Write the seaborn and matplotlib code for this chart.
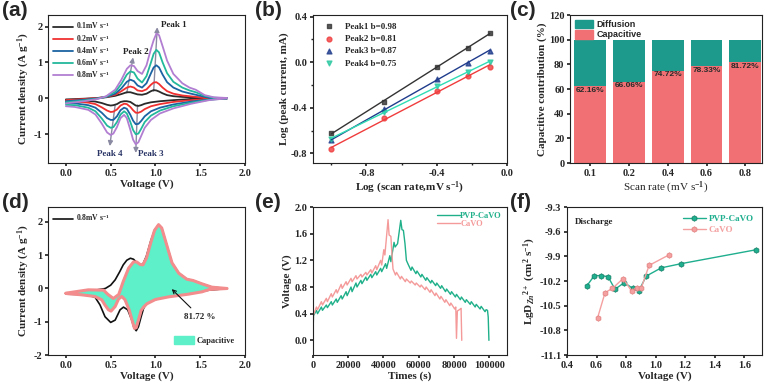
import numpy as np
import pandas as pd
import matplotlib
matplotlib.use("Agg")
import matplotlib.pyplot as plt
import seaborn as sns
from matplotlib.patches import Patch
from matplotlib.ticker import AutoMinorLocator

# ---------------- (a) CV curves at different scan rates ----------------
cv_rates = ["0.1", "0.2", "0.4", "0.6", "0.8"]
cv_colors = ["#2b2b2b", "#f03030", "#1c63a3", "#22b89c", "#b27ed2"]
cv_x_up = [0.0, 0.2, 0.35, 0.45, 0.55, 0.62, 0.68, 0.72, 0.76, 0.8, 0.85, 0.9, 0.95,
           0.98, 1.01, 1.04, 1.08, 1.13, 1.2, 1.3, 1.38, 1.45, 1.55, 1.65, 1.8]
cv_x_low = [1.8, 1.6, 1.4, 1.2, 1.05, 0.95, 0.88, 0.84, 0.81, 0.78, 0.75, 0.72, 0.68,
            0.65, 0.61, 0.57, 0.53, 0.5, 0.46, 0.4, 0.33, 0.25, 0.1, 0.0]
cv_up_01 = [-0.03, -0.01, 0.01, 0.03, 0.07, 0.12, 0.17, 0.17, 0.14, 0.11, 0.10, 0.13, 0.20,
            0.23, 0.22, 0.19, 0.14, 0.09, 0.06, 0.04, 0.03, 0.02, 0.01, 0.0, 0.0]
cv_up_02 = [-0.05, -0.02, 0.01, 0.04, 0.10, 0.20, 0.30, 0.33, 0.30, 0.22, 0.20, 0.25, 0.38,
            0.44, 0.45, 0.40, 0.30, 0.20, 0.13, 0.08, 0.06, 0.04, 0.02, 0.0, 0.0]
cv_up_04 = [-0.08, -0.04, 0.0, 0.04, 0.13, 0.28, 0.46, 0.52, 0.48, 0.36, 0.30, 0.42, 0.70,
            0.86, 0.92, 0.86, 0.66, 0.45, 0.30, 0.19, 0.14, 0.10, 0.04, 0.01, 0.0]
cv_up_06 = [-0.11, -0.06, -0.01, 0.05, 0.18, 0.40, 0.66, 0.75, 0.72, 0.55, 0.44, 0.62, 1.00,
            1.24, 1.35, 1.28, 1.00, 0.70, 0.46, 0.30, 0.22, 0.17, 0.07, 0.02, 0.0]
cv_up_08 = [-0.14, -0.08, -0.02, 0.06, 0.24, 0.52, 0.82, 0.92, 0.90, 0.76, 0.68, 0.92, 1.38,
            1.62, 1.80, 1.76, 1.45, 1.05, 0.68, 0.42, 0.30, 0.24, 0.09, 0.03, 0.01]
cv_low_01 = [0.0, -0.01, -0.02, -0.05, -0.08, -0.11, -0.15, -0.19, -0.21, -0.20, -0.15, -0.10,
             -0.08, -0.08, -0.10, -0.16, -0.19, -0.20, -0.18, -0.13, -0.09, -0.07, -0.05, -0.05]
cv_low_02 = [0.0, -0.02, -0.05, -0.10, -0.16, -0.22, -0.30, -0.37, -0.40, -0.40, -0.33, -0.24,
             -0.16, -0.15, -0.20, -0.31, -0.37, -0.38, -0.34, -0.25, -0.16, -0.12, -0.09, -0.09]
cv_low_04 = [0.0, -0.03, -0.09, -0.17, -0.26, -0.36, -0.50, -0.63, -0.71, -0.72, -0.62, -0.46,
             -0.29, -0.26, -0.33, -0.50, -0.60, -0.60, -0.55, -0.40, -0.26, -0.19, -0.14, -0.13]
cv_low_06 = [0.0, -0.04, -0.12, -0.22, -0.34, -0.48, -0.66, -0.85, -0.98, -1.0, -0.88, -0.66,
             -0.42, -0.36, -0.45, -0.66, -0.80, -0.82, -0.76, -0.56, -0.36, -0.26, -0.19, -0.18]
cv_low_08 = [0.0, -0.05, -0.15, -0.28, -0.42, -0.60, -0.82, -1.05, -1.22, -1.28, -1.15, -0.88,
             -0.55, -0.46, -0.55, -0.80, -0.98, -1.02, -0.95, -0.70, -0.45, -0.32, -0.24, -0.22]
cv_up = [cv_up_01, cv_up_02, cv_up_04, cv_up_06, cv_up_08]
cv_low = [cv_low_01, cv_low_02, cv_low_04, cv_low_06, cv_low_08]

# ---------------- (b) log(i) vs log(v) ----------------
log_rate = [-1.0, -0.699, -0.398, -0.222, -0.097]
peak1 = [-0.623, -0.345, -0.038, 0.129, 0.254]
peak2 = [-0.763, -0.491, -0.249, -0.120, -0.038]
peak3 = [-0.687, -0.412, -0.149, -0.003, 0.102]
peak4 = [-0.675, -0.433, -0.208, -0.082, 0.0]
peak_labels = ["Peak1 b=0.98", "Peak2 b=0.81", "Peak3 b=0.87", "Peak4 b=0.75"]

# ---------------- (c) capacitive contribution ----------------
scan_rates = ["0.1", "0.2", "0.4", "0.6", "0.8"]
capacitive = [62.16, 66.06, 74.72, 78.33, 81.72]
diffusion = [37.84, 33.94, 25.28, 21.67, 18.28]

# ---------------- (d) capacitive region at 0.8 mV/s ----------------
d_x_up = [0.0, 0.2, 0.35, 0.44, 0.5, 0.55, 0.6, 0.64, 0.68, 0.72, 0.755, 0.79, 0.83, 0.86,
          0.9, 0.95, 0.99, 1.035, 1.07, 1.13, 1.185, 1.26, 1.35, 1.42, 1.52, 1.63, 1.8]
d_y_up = [-0.15, -0.1, -0.04, 0.0, 0.1, 0.26, 0.5, 0.71, 0.85, 0.91, 0.88, 0.78, 0.71, 0.73,
          0.98, 1.45, 1.75, 1.92, 1.82, 1.27, 0.77, 0.46, 0.28, 0.24, 0.14, 0.04, 0.0]
d_x_low = [1.8, 1.6, 1.37, 1.11, 0.96, 0.9, 0.867, 0.84, 0.81, 0.785, 0.76, 0.736, 0.69,
           0.643, 0.605, 0.55, 0.5, 0.437, 0.38, 0.325, 0.213, 0.0]
d_y_low = [0.0, -0.05, -0.14, -0.26, -0.36, -0.45, -0.6, -0.85, -1.15, -1.27, -1.18, -0.95,
           -0.64, -0.56, -0.64, -0.95, -1.02, -0.85, -0.49, -0.26, -0.18, -0.17]
cap_x_up = [0.0, 0.25, 0.42, 0.47, 0.53, 0.59, 0.64, 0.7, 0.755, 0.79, 0.83, 0.86, 0.9, 0.95,
            0.99, 1.035, 1.07, 1.13, 1.185, 1.26, 1.35, 1.42, 1.52, 1.63, 1.8]
cap_y_up = [-0.14, -0.04, -0.05, -0.18, -0.30, -0.18, 0.21, 0.61, 0.80, 0.80, 0.72, 0.71, 0.92,
            1.40, 1.75, 1.92, 1.82, 1.27, 0.77, 0.46, 0.28, 0.24, 0.14, 0.04, 0.0]
cap_x_low = [1.8, 1.6, 1.52, 1.37, 1.15, 1.0, 0.904, 0.867, 0.84, 0.81, 0.785, 0.766, 0.744,
             0.706, 0.66, 0.624, 0.587, 0.55, 0.504, 0.475, 0.437, 0.4, 0.325, 0.175, 0.0]
cap_y_low = [0.0, -0.03, -0.1, -0.17, -0.25, -0.33, -0.46, -0.56, -0.66, -0.95, -1.18, -1.2,
             -1.0, -0.64, -0.34, -0.24, -0.32, -0.54, -0.68, -0.64, -0.5, -0.34, -0.24, -0.19, -0.15]

# ---------------- (e) GITT profiles (time in ks) ----------------
pvp_t = [0.0, 0.3, 2.0, 2.6, 4.8, 5.4, 7.6, 8.2, 10.4, 11.0, 13.2, 13.8, 16.0, 16.6, 18.8, 19.4,
         21.6, 22.2, 24.4, 25.0, 27.2, 27.8, 30.0, 30.6, 32.8, 33.4, 35.6, 36.2, 38.4, 39.0,
         41.2, 41.8, 43.6, 44.2, 46.0, 46.6, 48.0, 49.8, 50.5, 51.3, 52.2, 53.0, 54.0, 55.6,
         56.2, 58.4, 59.0, 61.2, 61.8, 64.0, 64.6, 66.8, 67.4, 69.6, 70.2, 72.4, 73.0, 75.2,
         75.8, 78.0, 78.6, 80.8, 81.4, 83.6, 84.2, 86.4, 87.0, 89.2, 89.8, 92.0, 92.6, 94.8,
         95.4, 97.6, 98.2, 99.0, 99.4, 99.8]
pvp_v = [0.0, 0.37, 0.45, 0.40, 0.50, 0.45, 0.53, 0.49, 0.58, 0.53, 0.62, 0.57, 0.67, 0.62,
         0.73, 0.67, 0.80, 0.73, 0.86, 0.80, 0.90, 0.85, 0.95, 0.90, 0.99, 0.94, 1.03, 0.98,
         1.08, 1.03, 1.15, 1.08, 1.27, 1.18, 1.47, 1.40, 1.45, 1.80, 1.66, 1.65, 1.45, 1.20,
         1.14, 1.05, 1.10, 1.00, 1.04, 0.95, 0.99, 0.90, 0.94, 0.86, 0.90, 0.82, 0.86, 0.78,
         0.82, 0.73, 0.77, 0.69, 0.73, 0.65, 0.69, 0.61, 0.65, 0.57, 0.61, 0.54, 0.58, 0.50,
         0.54, 0.47, 0.51, 0.43, 0.46, 0.45, 0.35, 0.0]
cavo_t = [0.0, 0.3, 2.0, 2.6, 4.8, 5.4, 7.6, 8.2, 10.4, 11.0, 13.2, 13.8, 16.0, 16.6, 18.8, 19.4,
          21.6, 22.2, 24.4, 25.0, 27.2, 27.8, 30.0, 30.6, 32.8, 33.4, 35.6, 36.2, 38.4, 39.0,
          40.2, 40.8, 42.6, 43.2, 44.2, 44.8, 45.4, 46.8, 47.4, 49.6, 50.2, 52.4, 53.0, 55.2,
          55.8, 58.0, 58.6, 60.8, 61.4, 63.6, 64.2, 66.4, 67.0, 69.2, 69.8, 72.0, 72.6, 74.8,
          75.4, 77.6, 78.2, 80.4, 81.0, 81.4, 81.9, 83.6, 84.0, 84.4]
cavo_v = [0.0, 0.38, 0.50, 0.46, 0.58, 0.53, 0.63, 0.58, 0.70, 0.65, 0.76, 0.71, 0.84, 0.78,
          0.88, 0.83, 0.93, 0.88, 0.97, 0.92, 0.99, 0.95, 1.02, 0.98, 1.06, 1.01, 1.12, 1.06,
          1.20, 1.13, 1.36, 1.28, 1.81, 1.58, 1.56, 1.30, 1.07, 0.98, 1.02, 0.92, 0.96, 0.88,
          0.92, 0.86, 0.89, 0.83, 0.86, 0.80, 0.83, 0.76, 0.80, 0.72, 0.76, 0.67, 0.71, 0.62,
          0.66, 0.57, 0.61, 0.52, 0.56, 0.47, 0.50, 0.03, 0.44, 0.47, 0.48, 0.0]

# ---------------- (f) diffusion coefficient ----------------
pvp_f_v = [0.534, 0.585, 0.632, 0.678, 0.725, 0.788, 0.846, 0.886, 0.937, 1.038, 1.17, 1.68]
pvp_f_d = [-10.26, -10.135, -10.135, -10.147, -10.30, -10.22, -10.29, -10.32, -10.14,
           -10.04, -9.99, -9.82]
cavo_f_v = [0.607, 0.658, 0.708, 0.78, 0.837, 0.873, 0.904, 0.956, 1.093]
cavo_f_d = [-10.65, -10.34, -10.29, -10.17, -10.32, -10.28, -10.28, -10.01, -9.88]

sns.set_theme(style="ticks")
plt.rcParams.update({
    "font.family": ["Liberation Serif", "DejaVu Serif"],
    "font.weight": "bold",
    "axes.labelweight": "bold",
    "mathtext.fontset": "custom",
    "mathtext.rm": "Liberation Serif:bold",
    "mathtext.it": "Liberation Serif:italic:bold",
    "mathtext.bf": "Liberation Serif:bold",
    "axes.unicode_minus": False,
    "xtick.labelsize": 7.5,
    "ytick.labelsize": 7.5,
    "axes.labelsize": 8,
    "axes.linewidth": 0.8,
    "axes.edgecolor": "#222222",
    "xtick.major.size": 2.5,
    "ytick.major.size": 2.5,
    "xtick.minor.size": 1.5,
    "ytick.minor.size": 1.5,
    "xtick.major.pad": 1.5,
    "ytick.major.pad": 1.5,
    "axes.labelpad": 1.5,
})

fig = plt.figure(figsize=(7.67, 3.84), dpi=100)
top_b, bot_b, h = 0.5755, 0.0755, 0.3854
lab_font = dict(family="Liberation Sans", weight="bold", fontsize=15, va="top")

# (a)
ax = fig.add_axes([0.0626, top_b, 0.2568, h])
for rate, col, up, low in zip(cv_rates, cv_colors, cv_up, cv_low):
    sns.lineplot(x=cv_x_up + cv_x_low, y=up + low, sort=False, estimator=None,
                 color=col, lw=1.3, ax=ax, label=f"{rate}mV s$^{{-1}}$")
arrow_c = "#8a8aa2"
for tail, head in [((0.98, 0.2), (1.02, 1.98)), ((0.68, 0.15), (0.75, 1.14)),
                   ((0.55, -0.18), (0.49, -1.33)), ((0.8, -0.19), (0.78, -1.52))]:
    ax.annotate("", xy=head, xytext=tail, zorder=1,
                arrowprops=dict(arrowstyle="-|>", color=arrow_c, lw=1.0, mutation_scale=7,
                                shrinkA=0, shrinkB=0))
ax.text(1.06, 2.05, "Peak 1", fontsize=6.5, color="#222222", va="center")
ax.text(0.64, 1.3, "Peak 2", fontsize=6.5, color="#222222", va="center")
ax.text(0.35, -1.54, "Peak 4", fontsize=6.5, color="#2a3566", va="center")
ax.text(0.8, -1.54, "Peak 3", fontsize=6.5, color="#2a3566", va="center")
ax.set_xlim(-0.2, 2.0)
ax.set_ylim(-1.8, 2.32)
ax.set_xticks([0.0, 0.5, 1.0, 1.5, 2.0])
ax.set_yticks([-1, 0, 1, 2])
ax.set_xlabel("Voltage (V)")
ax.set_ylabel("Current density (A g$^{-1}$)")
ax.legend(loc="upper left", frameon=False, fontsize=5.5, handlelength=2.6,
          labelspacing=0.15, borderaxespad=0.3, handletextpad=0.3)
fig.text(0.002, 0.998, "(a)", **lab_font)

# (b)
ax = fig.add_axes([0.408, top_b, 0.2529, h])
b_series = [(peak1, "s", "#333333", "#333333"), (peak2, "o", "#f03c3c", "#f03c3c"),
            (peak3, "^", "#1f3c8c", "#1f3c8c"), (peak4, "v", "#2ac8a0", "#30dcb4")]
for (vals, mk, col, lcol), lab in zip(b_series, peak_labels):
    sns.regplot(x=np.array(log_rate), y=np.array(vals), ci=None, marker=mk, ax=ax,
                color=col, label=lab, scatter_kws={"s": 12, "color": col},
                line_kws={"lw": 1.0, "color": lcol})
ax.set_xlim(-1.105, 0.0)
ax.set_ylim(-0.885, 0.415)
ax.set_xticks([-0.8, -0.4, 0.0])
ax.set_yticks([-0.8, -0.4, 0.0, 0.4])
ax.xaxis.set_minor_locator(AutoMinorLocator(2))
ax.yaxis.set_minor_locator(AutoMinorLocator(2))
ax.set_xlabel("Log (scan rate,mV s$^{-1}$)")
ax.set_ylabel("Log (peak current, mA)")
ax.legend(loc="upper left", frameon=False, fontsize=6.5, handletextpad=0.8,
          labelspacing=0.45, borderaxespad=0.4)
fig.text(0.333, 0.998, "(b)", **lab_font)

# (c)
ax = fig.add_axes([0.7432, top_b, 0.2503, h])
df_c = pd.DataFrame({"rate": scan_rates, "cap": capacitive,
                     "total": [c + d for c, d in zip(capacitive, diffusion)]})
teal_c, red_c = "#1e9a8c", "#f07073"
sns.barplot(data=df_c, x="rate", y="total", color=teal_c, saturation=1, width=0.82,
            linewidth=0, ax=ax)
sns.barplot(data=df_c, x="rate", y="cap", color=red_c, saturation=1, width=0.82,
            linewidth=0, ax=ax)
for i, c in enumerate(capacitive):
    ax.text(i, c - 0.5, f"{c:.2f}%", ha="center", va="top", fontsize=6,
            family="Liberation Sans", weight="bold", color="#2a2a2a")
ax.set_xlim(-0.52, 4.43)
ax.set_ylim(0, 120)
ax.set_yticks(range(0, 121, 20))
ax.set_xlabel("Scan rate (mV s$^{-1}$)", weight="normal")
ax.set_ylabel("Capacitive contribution (%)")
ax.legend(handles=[Patch(color=teal_c, label="Diffusion"), Patch(color=red_c, label="Capacitive")],
          loc="upper left", frameon=False, handlelength=2.0, handleheight=1.1,
          labelspacing=0.1, borderaxespad=0.1, handletextpad=0.4,
          prop=dict(family="Liberation Sans", weight="bold", size=6.5))
fig.text(0.665, 0.998, "(c)", **lab_font)

# (d)
ax = fig.add_axes([0.0626, bot_b, 0.2568, h])
sns.lineplot(x=d_x_up + d_x_low, y=d_y_up + d_y_low, sort=False, estimator=None,
             color="#111111", lw=1.2, ax=ax, label="0.8mV s$^{-1}$")
fill_c = "#5ef0c8"
ax.fill(cap_x_up + cap_x_low, cap_y_up + cap_y_low, color=fill_c, zorder=2.5, lw=0)
sns.lineplot(x=cap_x_up + cap_x_low, y=cap_y_up + cap_y_low, sort=False, estimator=None,
             color="#f38c8c", lw=2.2, ax=ax, zorder=3)
ax.annotate("81.72 %", xy=(1.16, 0.04), xytext=(1.5, -0.86), ha="center", va="center",
            fontsize=6.5, arrowprops=dict(arrowstyle="->", color="#111111", lw=0.8))
ax.set_xlim(-0.2, 2.0)
ax.set_ylim(-2.0, 2.45)
ax.set_xticks([0.0, 0.5, 1.0, 1.5, 2.0])
ax.set_yticks([-2, -1, 0, 1, 2])
ax.set_xlabel("Voltage (V)")
ax.set_ylabel("Current density (A g$^{-1}$)")
leg1 = ax.legend(loc="upper left", frameon=False, fontsize=5.5, handlelength=2.6,
                 borderaxespad=0.3, handletextpad=0.3)
ax.add_artist(leg1)
ax.legend(handles=[Patch(color=fill_c, label="Capacitive")], loc="lower right",
          frameon=False, fontsize=6, handlelength=2.4, handleheight=1.2,
          borderaxespad=0.8, handletextpad=0.3)
fig.text(0.002, 0.498, "(d)", **lab_font)

# (e)
ax = fig.add_axes([0.408, bot_b, 0.2529, h])
green_e, pink_e = "#1fb08a", "#f59a9a"
sns.lineplot(x=np.array(pvp_t) * 1000, y=pvp_v, sort=False, estimator=None, color=green_e,
             lw=1.0, ax=ax, label="PVP-CaVO")
sns.lineplot(x=np.array(cavo_t) * 1000, y=cavo_v, sort=False, estimator=None, color=pink_e,
             lw=1.0, ax=ax, label="CaVO")
ax.set_xlim(0, 110000)
ax.set_ylim(-0.22, 2.0)
ax.set_xticks(range(0, 100001, 20000))
ax.set_yticks([0.0, 0.4, 0.8, 1.2, 1.6, 2.0])
ax.set_xlabel("Times (s)")
ax.set_ylabel("Voltage (V)")
leg = ax.legend(loc="upper right", frameon=False, fontsize=6, handlelength=2.8,
                labelspacing=0.0, borderaxespad=0.2, handletextpad=0.0)
for txt, col in zip(leg.get_texts(), [green_e, pink_e]):
    txt.set_color(col)
fig.text(0.333, 0.498, "(e)", **lab_font)

# (f)
ax = fig.add_axes([0.7392, bot_b, 0.2542, h])
green_f, pink_f = "#1fae8e", "#f4a0a0"
sns.lineplot(x=pvp_f_v, y=pvp_f_d, sort=False, estimator=None, color=green_f, lw=1.0,
             marker="h", markersize=4, markeredgecolor="#137a62", markeredgewidth=0.5,
             ax=ax, label="PVP-CaVO")
sns.lineplot(x=cavo_f_v, y=cavo_f_d, sort=False, estimator=None, color=pink_f, lw=1.0,
             marker="h", markersize=4, markeredgecolor="#e07d7d", markeredgewidth=0.5,
             ax=ax, label="CaVO")
ax.text(0.04, 0.9, "Discharge", transform=ax.transAxes, fontsize=6.5, va="center")
ax.set_xlim(0.4, 1.72)
ax.set_ylim(-11.1, -9.3)
ax.set_xticks([0.4, 0.6, 0.8, 1.0, 1.2, 1.4, 1.6])
ax.set_yticks([-11.1, -10.8, -10.5, -10.2, -9.9, -9.6, -9.3])
ax.set_xlabel("Voltage (V)")
ax.set_ylabel("LgD$_{Zn}$$^{2+}$ (cm$^{2}$ s$^{-1}$)")
leg = ax.legend(loc="upper right", frameon=False, fontsize=6.5, handlelength=2.6,
                labelspacing=0.3, borderaxespad=0.5, handletextpad=0.3)
for txt, col in zip(leg.get_texts(), [green_f, pink_f]):
    txt.set_color(col)
fig.text(0.665, 0.498, "(f)", **lab_font)

fig.savefig("out.png", dpi=100)
